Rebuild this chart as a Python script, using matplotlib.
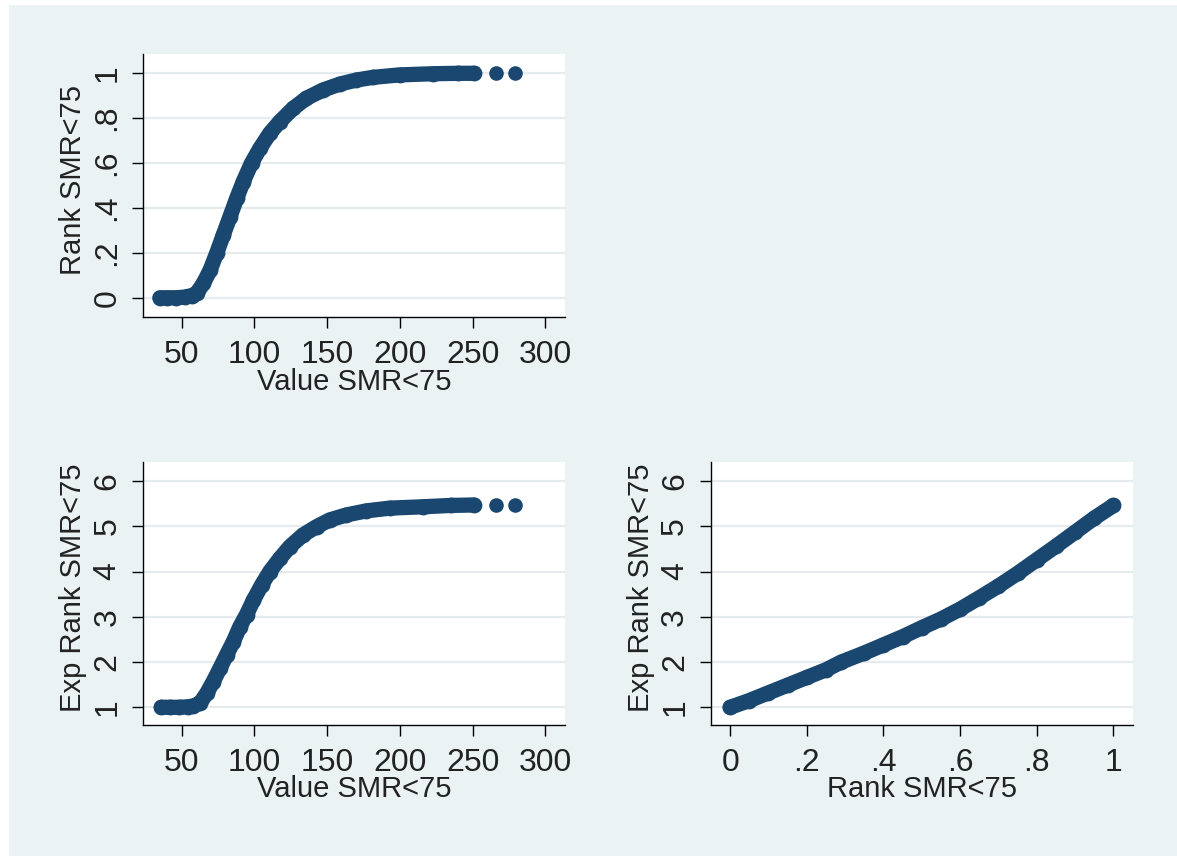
import numpy as np
import matplotlib.pyplot as plt
from matplotlib.patches import Rectangle

# ==========================
# Data
# ==========================
# panel 1: Rank vs Value
value_p1 = [35, 40, 46, 52, 57, 60.3, 64.9, 69.5, 74, 78.6, 83.2, 87.8, 92.3,
            98, 103.8, 110.6, 117.5, 126.7, 135.8, 147.3, 158.7, 170.1, 181.6,
            199.9, 222.8, 240, 251]
rank_p1 = [0.0, 0.0, 0.0, 0.003, 0.01, 0.02, 0.064, 0.123, 0.198, 0.28, 0.361,
           0.443, 0.517, 0.6, 0.666, 0.733, 0.785, 0.844, 0.889, 0.926, 0.952,
           0.97, 0.982, 0.993, 0.998, 1.0, 1.0]
tail_value = [265.8, 279.0]
tail_rank = [1.0, 1.0]

# panel 2: Exp Rank vs Value
value_p2 = [36, 42, 48, 54, 58, 62.6, 67.2, 71.7, 76.3, 80.9, 85.5, 90, 94.6,
            99.2, 104.9, 110.6, 117.5, 124.4, 133.5, 142.7, 151.8, 163.3, 177,
            193, 215.9, 235, 251]
exprank_p2 = [1.0, 1.0, 1.0, 1.01, 1.03, 1.09, 1.31, 1.57, 1.86, 2.16, 2.45,
              2.78, 3.05, 3.36, 3.7, 4.0, 4.29, 4.55, 4.81, 4.99, 5.14, 5.25,
              5.34, 5.4, 5.43, 5.46, 5.47]
tail_exprank = [5.47, 5.47]

# panel 3: Exp Rank vs Rank
rank_p3 = [0, 0.05, 0.1, 0.15, 0.2, 0.25, 0.29, 0.35, 0.4, 0.45, 0.5, 0.55,
           0.6, 0.65, 0.7, 0.75, 0.8, 0.85, 0.9, 0.95, 1.0]
exprank_p3 = [1.0, 1.15, 1.32, 1.49, 1.66, 1.83, 2.0, 2.2, 2.38, 2.56, 2.76,
              2.95, 3.17, 3.42, 3.68, 3.96, 4.26, 4.56, 4.87, 5.18, 5.46]

value_ticks = [50, 100, 150, 200, 250, 300]
value_labels = ["50", "100", "150", "200", "250", "300"]
rank_ticks = [0, 0.2, 0.4, 0.6, 0.8, 1]
rank_labels = ["0", ".2", ".4", ".6", ".8", "1"]
exp_ticks = [1, 2, 3, 4, 5, 6]
exp_labels = ["1", "2", "3", "4", "5", "6"]

# ==========================
# Style
# ==========================
navy = "#1A476F"
bg = "#EAF2F3"
grid_c = "#E6ECEE"
txt = "#222222"
fs = 21
tick_fs = 23
plt.rcParams["font.family"] = ["Liberation Sans", "DejaVu Sans"]

W, H = 1177, 856
fig = plt.figure(figsize=(W / 100, H / 100), dpi=100, facecolor=bg)
fig.patches.append(Rectangle((0, 0), 8 / W, 1, transform=fig.transFigure,
                             color="white", zorder=0))
fig.patches.append(Rectangle((0, 1 - 4 / H), 1, 4 / H, transform=fig.transFigure,
                             color="white", zorder=0))


def make_ax(x0, y0, x1, y1):
    # pixel box -> figure fraction
    return fig.add_axes([x0 / W, 1 - y1 / H, (x1 - x0) / W, (y1 - y0) / H])


def style(ax, xt, xl, yt, yl, xlabel, ylabel):
    ax.set_facecolor("white")
    for s in ["top", "right"]:
        ax.spines[s].set_visible(False)
    for s in ["left", "bottom"]:
        ax.spines[s].set_linewidth(1.0)
        ax.spines[s].set_color("black")
    ax.set_xticks(xt, xl)
    ax.set_yticks(yt, yl)
    ax.tick_params(axis="both", direction="out", length=8, width=1.0,
                   labelsize=tick_fs, labelcolor=txt, color="black")
    ax.tick_params(axis="x", pad=8.5)
    ax.tick_params(axis="y", pad=7, labelrotation=90)
    for lab in ax.get_yticklabels():
        lab.set_va("center")
    ax.yaxis.grid(True, color=grid_c, lw=1.6)
    ax.set_axisbelow(True)
    ax.set_xlabel(xlabel, fontsize=fs, color=txt)
    ax.set_ylabel(ylabel, fontsize=fs, color=txt)
    ax.xaxis.set_label_coords(0.5, -0.191)
    ax.xaxis.label.set_va("top")
    ax.yaxis.set_label_coords(-0.133, 0.52)


def band(ax, x, y):
    ax.plot(x, y, color=navy, lw=11, solid_capstyle="round",
            solid_joinstyle="round", zorder=3)
    ax.scatter(x, y, s=130, color=navy, lw=0, zorder=3)


# ==========================
# Panels
# ==========================
ax1 = make_ax(143.3, 54, 564.5, 317.3)
band(ax1, value_p1, rank_p1)
ax1.scatter(tail_value, tail_rank, s=110, color=navy, lw=0, zorder=3)
ax1.set_xlim(23.6, 313.2)
ax1.set_ylim(-0.087, 1.086)
style(ax1, value_ticks, value_labels, rank_ticks, rank_labels,
      "Value SMR<75", "Rank SMR<75")

ax2 = make_ax(143.3, 461.7, 564.5, 725)
band(ax2, value_p2, exprank_p2)
ax2.scatter(tail_value, tail_exprank, s=110, color=navy, lw=0, zorder=3)
ax2.set_xlim(23.6, 313.2)
ax2.set_ylim(0.609, 6.426)
style(ax2, value_ticks, value_labels, exp_ticks, exp_labels,
      "Value SMR<75", "Exp Rank SMR<75")

ax3 = make_ax(711, 461.7, 1133, 725)
band(ax3, rank_p3, exprank_p3)
ax3.set_xlim(-0.05, 1.051)
ax3.set_ylim(0.609, 6.426)
style(ax3, rank_ticks, rank_labels, exp_ticks, exp_labels,
      "Rank SMR<75", "Exp Rank SMR<75")

plt.savefig("out.png", dpi=100, facecolor=bg)
